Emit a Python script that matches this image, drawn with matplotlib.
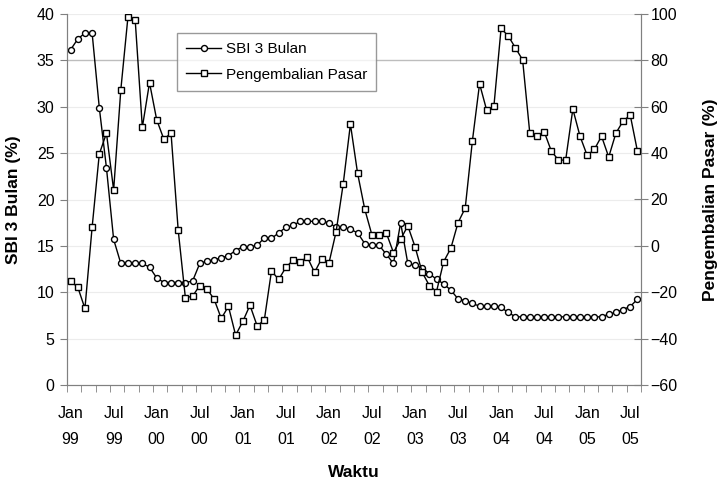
import matplotlib
matplotlib.use("Agg")
import matplotlib.pyplot as plt
import numpy as np

plt.rcParams['font.family'] = ['Liberation Sans', 'DejaVu Sans']

# Monthly data, Jan 1999 .. Aug 2005
sbi = [36.15, 37.3, 37.95, 37.95, 29.9, 23.4, 15.7, 13.1, 13.1, 13.1,
       13.1, 12.7, 11.55, 11.05, 11.05, 11.05, 11.05, 11.2, 13.1, 13.35,
       13.5, 13.7, 13.95, 14.5, 14.9, 14.9, 15.06, 15.85, 15.8, 16.4,
       17.0, 17.2, 17.65, 17.65, 17.65, 17.65, 17.5, 17.0, 17.0, 16.8,
       16.4, 15.25, 15.06, 15.06, 14.1, 13.1, 17.5, 13.1, 12.9, 12.65,
       12.0, 11.4, 10.9, 10.22, 9.29, 9.07, 8.79, 8.5, 8.5, 8.5,
       8.36, 7.82, 7.35, 7.35, 7.35, 7.35, 7.35, 7.35, 7.35, 7.35,
       7.35, 7.35, 7.35, 7.35, 7.35, 7.64, 7.82, 8.14, 8.46, 9.25]

pasar = [-15.2, -17.8, -27.0, 8.0, 39.6, 48.6, 24.1, 67.3, 98.9, 97.6,
         51.1, 70.4, 54.4, 46.0, 48.6, 6.7, -22.4, -21.7, -17.1, -18.5,
         -23.0, -31.3, -26.1, -38.5, -32.6, -25.6, -34.5, -32.0, -10.8, -14.5,
         -9.3, -6.2, -6.8, -4.9, -11.4, -5.5, -7.5, 6.0, 26.8, 52.5,
         31.3, 15.8, 4.7, 4.7, 5.6, -2.9, 2.9, 8.6, -0.3, -11.4,
         -17.1, -19.7, -6.8, -1.0, 10.0, 16.3, 45.3, 69.9, 58.4, 60.3,
         93.8, 90.5, 85.4, 80.2, 48.6, 47.3, 49.3, 40.9, 37.0, 37.0,
         59.0, 47.3, 39.0, 41.6, 47.3, 38.3, 48.6, 53.8, 56.4, 40.9]

tick_labels = ['Jan\n99', 'Jul\n99', 'Jan\n00', 'Jul\n00', 'Jan\n01', 'Jul\n01',
               'Jan\n02', 'Jul\n02', 'Jan\n03', 'Jul\n03', 'Jan\n04', 'Jul\n04',
               'Jan\n05', 'Jul\n05']

x = np.arange(len(sbi))

fig = plt.figure(figsize=(7.2, 4.88), dpi=100)
ax = fig.add_axes([67/720, 1-385/488, (641-67)/720, (385-14)/488])
ax2 = ax.twinx()

# gridlines
for v in [5, 10, 15, 20, 25, 30, 40]:
    ax.axhline(v, color='#ececec', lw=0.8, zorder=0)
ax.axhline(35, color='#bdbdbd', lw=1.0, zorder=0)

l1, = ax.plot(x, sbi, color='black', lw=1.0, marker='o', ms=4.3,
              mfc='white', mec='black', mew=1.0, label='SBI 3 Bulan', zorder=3)
l2, = ax2.plot(x, pasar, color='black', lw=1.0, marker='s', ms=4.3,
               mfc='white', mec='black', mew=1.0, label='Pengembalian Pasar', zorder=3)

ax.set_xlim(-0.5, 79.5)
ax.set_ylim(0, 40)
ax2.set_ylim(-60, 100)
ax.set_yticks(np.arange(0, 41, 5))
ax2.set_yticks(np.arange(-60, 101, 20))

ax.set_xticks(np.arange(0, 79, 6))
ax.set_xticklabels(tick_labels, linespacing=1.95)
ax.set_xticks(np.arange(-0.5, 80, 2), minor=True)

gray = '#808080'
for a in (ax, ax2):
    for s in a.spines.values():
        s.set_color(gray)
    a.spines['top'].set_visible(False)
ax.tick_params(axis='x', which='major', length=0, pad=15, labelsize=11.5)
ax.tick_params(axis='x', which='minor', length=5, color=gray, direction='out')
ax.tick_params(axis='y', length=5, color=gray, direction='out', labelsize=11.5, pad=4)
ax2.tick_params(axis='y', length=10, color=gray, direction='inout', labelsize=11.5, pad=2)

ax.set_ylabel('SBI 3 Bulan (%)', fontsize=12.5, fontweight='bold', labelpad=11)
ax2.set_ylabel('Pengembalian Pasar (%)', fontsize=12.5, fontweight='bold', labelpad=18)
ax.set_xlabel('Waktu', fontsize=12.5, fontweight='bold', labelpad=13)

leg = ax.legend(handles=[l1, l2], loc='upper left', bbox_to_anchor=(0.1916, 0.949),
                borderaxespad=0, fontsize=11, frameon=True, fancybox=False,
                handlelength=2.3, borderpad=0.6, labelspacing=0.75, handletextpad=0.3)
leg.get_frame().set_edgecolor(gray)
leg.get_frame().set_linewidth(1.0)
leg.set_zorder(5)

fig.savefig('out.png', dpi=100)
